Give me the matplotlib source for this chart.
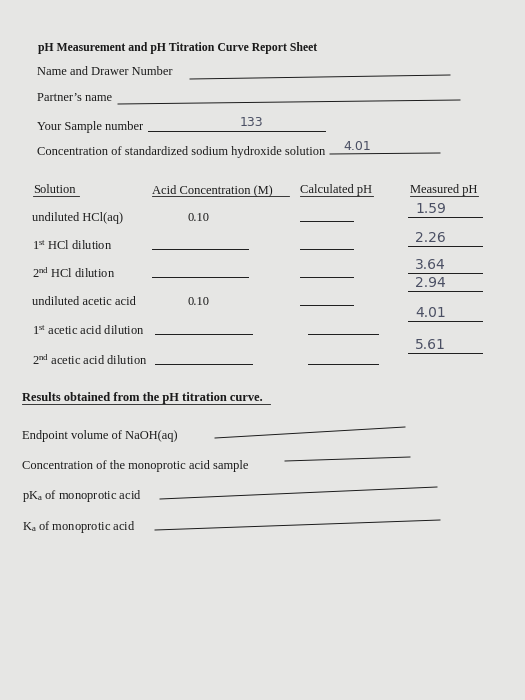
import matplotlib
matplotlib.use("Agg")
import matplotlib.pyplot as plt

plt.rcParams['mathtext.fontset'] = 'custom'
plt.rcParams['mathtext.rm'] = 'Liberation Serif'
plt.rcParams['mathtext.it'] = 'Liberation Serif'
plt.rcParams['mathtext.default'] = 'regular'

title = "pH Measurement and pH Titration Curve Report Sheet"
info_labels = ["Name and Drawer Number", "Partner\u2019s name", "Your Sample number",
               "Concentration of standardized sodium hydroxide solution"]
info_values = ["", "", "133", "4.01"]
headers = ["Solution", "Acid Concentration (M)", "Calculated pH", "Measured pH"]
solutions = ["undiluted HCl(aq)", "1$^{st}$ HCl dilution", "2$^{nd}$ HCl dilution",
             "undiluted acetic acid", "1$^{st}$ acetic acid dilution", "2$^{nd}$ acetic acid dilution"]
acid_conc = ["0.10", "", "", "0.10", "", ""]
measured_ph = ["1.59", "2.26", "3.64", "2.94", "4.01", "5.61"]
results_title = "Results obtained from the pH titration curve."
results = ["Endpoint volume of NaOH(aq)", "Concentration of the monoprotic acid sample",
           "pK$_a$ of monoprotic acid", "K$_a$ of monoprotic acid"]

fig = plt.figure(figsize=(5.25, 7), dpi=100, facecolor="#e6e6e4")
ax = fig.add_axes([0, 0, 1, 1])
ax.set_xlim(0, 525); ax.set_ylim(700, 0); ax.axis("off")
serif = "Liberation Serif"; ink = "#1a1a1a"; pen = "#4a4f63"
lw = 0.7; fs = 9

ax.text(38, 48, title, family=serif, weight="bold", fontsize=8.5, color=ink, va="center")

info_y = [72, 98, 127, 152]
info_lines = [(190, 450, 79, 75), (118, 460, 104, 100), (148, 325, 131, 131), (330, 440, 154, 153)]
for lab, val, y, (x0, x1, y0, y1) in zip(info_labels, info_values, info_y, info_lines):
    ax.text(37, y, lab, family=serif, fontsize=fs, color=ink, va="center")
    ax.plot([x0, x1], [y0, y1], color=ink, lw=lw)
    if val:
        ax.text(240 if val == "133" else 343, y - 5, val,
                family="DejaVu Sans", fontsize=9, color=pen, va="center")

hx = [33, 152, 300, 410]
hw = [46, 137, 73, 68]
for h, x, w in zip(headers, hx, hw):
    ax.text(x, 190, h, family=serif, fontsize=fs, color=ink, va="center")
    ax.plot([x, x + w], [196, 196], color=ink, lw=0.6)

row_y = [218, 246, 274, 302, 331, 361]
meas_y = [209, 238, 265, 283, 313, 345]
for i, (s, c, m, y, my) in enumerate(zip(solutions, acid_conc, measured_ph, row_y, meas_y)):
    ax.text(32, y, s, family=serif, fontsize=fs, color=ink, va="center")
    if c:
        ax.text(188, y, c, family=serif, fontsize=fs, color=ink, va="center")
    elif i in (1, 2):
        ax.plot([152, 248], [y + 3, y + 3], color=ink, lw=lw)
    else:
        ax.plot([155, 252], [y + 3, y + 3], color=ink, lw=lw)
    ax.plot([300, 353] if i < 4 else [308, 378], [y + 3, y + 3], color=ink, lw=lw)
    ax.plot([408, 482], [my + 8, my + 8], color=ink, lw=lw)
    ax.text(415, my, m, family="DejaVu Sans", fontsize=10, color=pen, va="center")

ax.text(22, 398, results_title, family=serif, weight="bold", fontsize=fs, color=ink, va="center")
ax.plot([22, 270], [404, 404], color=ink, lw=0.6)
res_y = [436, 466, 496, 527]
res_lines = [(215, 405, 438, 427), (285, 410, 461, 457), (160, 437, 499, 487), (155, 440, 530, 520)]
for r, y, (x0, x1, y0, y1) in zip(results, res_y, res_lines):
    ax.text(22, y, r, family=serif, fontsize=fs, color=ink, va="center")
    ax.plot([x0, x1], [y0, y1], color=ink, lw=lw)

fig.savefig("out.png", dpi=100, facecolor=fig.get_facecolor())
